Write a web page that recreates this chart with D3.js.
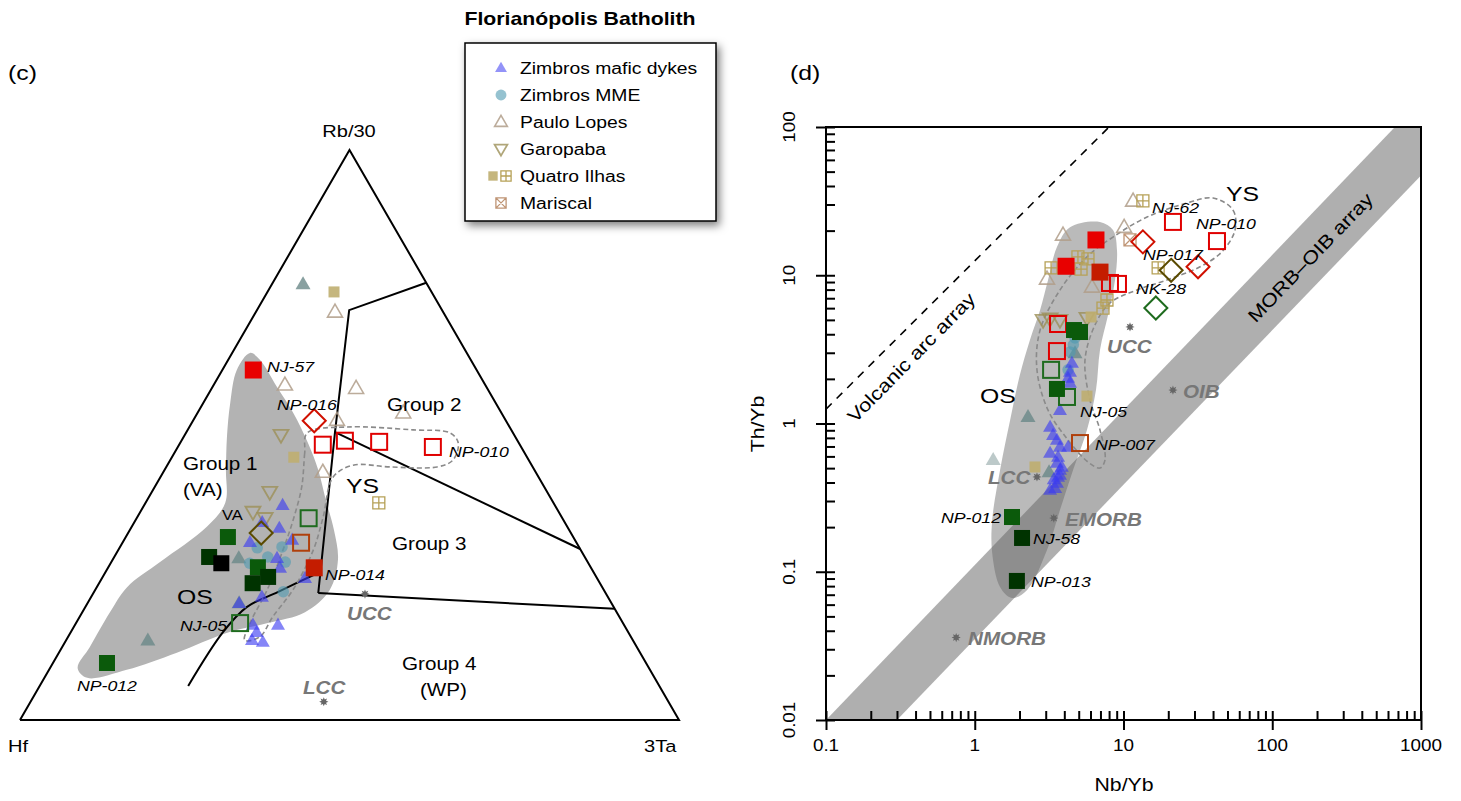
<!DOCTYPE html>
<html>
<head>
<meta charset="utf-8">
<script src="https://cdn.jsdelivr.net/npm/d3@7"></script>
<style>
  body { margin: 0; background: #fff; }
  svg { font-family: "Liberation Sans", Arial, Helvetica, sans-serif; }
</style>
</head>
<body>
<svg id="chart" width="1461" height="801"></svg>
<script>
// ---------------- Hf – Rb/30 – 3Ta (proportions: Hf, Rb/30, 3Ta) ----------------
const ternDykes = [
  [0.413,0.377,0.210],[0.459,0.347,0.194],[0.438,0.337,0.225],[0.495,0.312,0.193],
  [0.429,0.316,0.255],[0.468,0.284,0.248],[0.472,0.267,0.261],[0.525,0.216,0.259],
  [0.443,0.249,0.308],[0.565,0.205,0.230],[0.563,0.167,0.270],[0.525,0.167,0.308],
  [0.578,0.140,0.282],[0.563,0.137,0.300],[0.564,0.154,0.282]
];
const ternMME = [
  [0.489,0.302,0.209],[0.451,0.304,0.246],[0.481,0.286,0.233],
  [0.459,0.277,0.264],[0.514,0.275,0.211],[0.488,0.225,0.287]
];
const ternPauloLopes = [
  [0.164,0.716,0.120],[0.304,0.588,0.108],[0.199,0.582,0.219],
  [0.149,0.539,0.312],[0.256,0.526,0.218],[0.323,0.435,0.242]
];
const ternGaropaba = [[0.354,0.500,0.146],[0.421,0.400,0.179],[0.464,0.365,0.171],[0.451,0.354,0.195]];
const ternQuatroIlhas = [[0.148,0.751,0.101],[0.354,0.461,0.185]];
const ternQuatroIlhasGrid = [[0.265,0.381,0.354]];
const ternOther = [[0.188,0.765,0.047],[0.526,0.284,0.190],[0.736,0.140,0.124],[0.565,0.205,0.230]];
const ternRedFilled = [[0.339,0.614,0.047]];
const ternDarkRedFilled = [[0.420,0.267,0.313]];
const ternRedOpenSq = [[0.299,0.483,0.218],[0.262,0.490,0.248],[0.211,0.488,0.301],[0.134,0.479,0.387]];
const ternRedDiamond = [[0.291,0.525,0.184]];
const ternOliveDiamond = [[0.470,0.328,0.202]];
const ternBrownOpenSq = [[0.418,0.311,0.271]];
const ternGreenOpenSq = [[0.385,0.354,0.261],[0.581,0.170,0.249]];
const ternGreenFilled = [[0.524,0.321,0.155],[0.505,0.268,0.227],[0.818,0.100,0.082]];
const ternDarkGreenFilled = [[0.570,0.286,0.144],[0.498,0.251,0.251],[0.527,0.240,0.233]];
const ternBlackFilled = [[0.557,0.275,0.168]];
const ternRefs = [[0.366,0.221,0.413],[0.523,0.032,0.445]];   // UCC, LCC

// discrimination field boundaries
const ternFields = [
  [[0,0.767,0.233],[0.141,0.719,0.140],[0.2695,0.505,0.2255],[0.436,0.2228,0.3412]],
  [[0.2695,0.505,0.2255],[0,0.300,0.700]],
  [[0.436,0.2228,0.3412],[0,0.195,0.805]]
];
const ternFieldCurve = [[0.715,0.0596,0.2254],[0.615,0.154,0.231],[0.557,0.198,0.245],[0.497,0.2246,0.279],[0.415,0.2596,0.3254]];

// OS (shaded) and YS (dashed) sample envelopes
const ternOS = [
  [0.329,0.644,0.027],[0.320,0.632,0.048],[0.318,0.584,0.098],[0.316,0.539,0.145],[0.320,0.486,0.194],
  [0.328,0.439,0.233],[0.343,0.386,0.271],[0.357,0.333,0.310],[0.377,0.281,0.342],[0.416,0.228,0.356],
  [0.473,0.189,0.338],[0.539,0.170,0.291],[0.609,0.153,0.238],[0.703,0.118,0.179],[0.794,0.088,0.118],
  [0.861,0.074,0.065],[0.867,0.091,0.042],[0.830,0.128,0.042],[0.769,0.189,0.042],[0.721,0.233,0.046],
  [0.649,0.277,0.074],[0.547,0.339,0.114],[0.498,0.381,0.121],[0.468,0.439,0.093],[0.438,0.496,0.066],
  [0.403,0.556,0.041],[0.364,0.614,0.022]
];
const ternYS = [
  [0.3125,0.5035,0.184],[0.334,0.468,0.198],[0.368,0.409,0.223],[0.410,0.351,0.239],[0.452,0.298,0.250],
  [0.511,0.228,0.261],[0.566,0.170,0.264],[0.589,0.140,0.271],[0.563,0.146,0.291],[0.526,0.181,0.293],
  [0.472,0.228,0.300],[0.406,0.298,0.296],[0.362,0.356,0.282],[0.312,0.426,0.262],[0.271,0.447,0.282],
  [0.217,0.444,0.339],[0.145,0.444,0.411],[0.115,0.456,0.429],[0.092,0.486,0.422],[0.0955,0.5035,0.401],
  [0.149,0.509,0.342],[0.247,0.514,0.239]
];

// ---------------- Nb/Yb vs Th/Yb ----------------
const logDykes = [
  [4.50,2.56],[4.37,2.23],[4.24,2.03],[4.37,1.88],[3.74,1.23],[3.21,0.947],[3.36,0.836],
  [3.57,0.774],[4.24,0.695],[3.74,0.695],[3.21,0.633],[3.63,0.595],[3.57,0.542],[3.85,0.509],
  [3.74,0.486],[3.63,0.436],[3.57,0.397],[3.47,0.367],[3.21,0.356],[3.74,0.45],[3.40,0.42]
];
const logMME = [[4.72,3.77],[4.37,3.04],[4.24,2.30],[4.60,3.40]];
const logPauloLopes = [[11.6,31.7],[10.1,21.1],[3.92,18.7],[3.06,9.44],[6.14,8.34]];
const logGaropaba = [[2.88,4.99],[3.74,4.99],[5.68,5.15],[3.21,5.10]];
const logQuatroIlhas = [[6.05,5.23],[5.68,1.53],[2.54,0.509]];
const logQuatroIlhasGrid = [[13.5,31.7],[4.94,13.3],[5.77,12.9],[3.26,11.2],[5.18,11.0],[17.1,11.2],[7.74,6.81],[7.28,6.01]];
const logMariscal = [[11.06,17.3]];
const logOther = [[4.72,2.99],[2.28,1.11],[3.16,0.471]];
const logOtherLight = [[1.33,0.568]];
const logRedFilled = [[4.11,11.5],[6.53,17.3]];
const logDarkRedFilled = [[6.95,10.5]];
const logRedOpenSq = [[21.5,22.9],[42.5,17.0],[8.11,8.87],[9.18,8.74],[3.63,4.69],[3.57,3.08]];
const logRedDiamond = [[13.5,16.8],[31.7,11.4]];
const logOliveDiamond = [[20.9,10.8]];
const logGreenDiamond = [[16.5,6.01]];
const logGreenFilled = [[4.65,4.27],[5.10,4.14],[3.57,1.71],[1.78,0.234]];
const logDarkGreenFilled = [[2.08,0.169],[1.92,0.0867]];
const logGreenOpenSq = [[3.26,2.30],[4.17,1.51]];
const logBrownOpenSq = [[5.10,0.738]];
const logRefs = [[11.06,4.48],[21.5,1.68],[2.62,0.436],[3.40,0.23],[0.75,0.036]]; // UCC, OIB, LCC, EMORB, NMORB

const logMorbOib = [[0.1,0.01],[0.3,0.01],[1000,47],[1000,100],[668,100]];
const logArcLine = [[0.1,1.25],[8,100]];
const logOS = [
  [6.95,22.9],[8.50,20.2],[9.04,14.8],[8.77,9.29],[7.87,5.39],[6.95,3.13],[6.53,1.68],[5.68,0.904],
  [4.58,0.486],[3.74,0.261],[3.06,0.140],[2.25,0.0753],[1.78,0.0665],[1.48,0.0789],[1.31,0.134],
  [1.31,0.223],[1.48,0.486],[1.73,1.057],[2.01,2.12],[2.35,3.66],[2.75,5.83],[3.11,9.29],[3.57,15.5],[4.37,21.1]
];
const logYS = [
  [40.0,33.2],[54.5,27.5],[56.2,20.2],[45.9,14.4],[32.7,11.4],[19.6,9.29],[12.3,7.95],[8.11,6.50],
  [6.43,4.62],[5.51,2.68],[5.95,1.44],[6.95,0.904],[7.51,0.568],[6.95,0.501],[5.77,0.550],[4.24,0.774],
  [3.11,1.23],[2.62,2.30],[2.75,4.27],[3.74,7.95],[5.68,13.3],[8.50,18.1],[14.4,24.7],[26.7,30.7]
];

const xTickValues = [0.1, 1, 10, 100, 1000];
const xTickLabels = ["0.1", "1", "10", "100", "1000"];
const yTickValues = [0.01, 0.1, 1, 10, 100];
const yTickLabels = ["0.01", "0.1", "1", "10", "100"];

const legendNames = ["Zimbros mafic dykes", "Zimbros MME", "Paulo Lopes", "Garopaba", "Quatro Ilhas", "Mariscal"];

// ---------------- styles ----------------
const ST = {
  dykes:      { kind: "triUp",   size: 14, fill: "#3a3af2", fo: 0.62 },
  mme:        { kind: "circle",  size: 11.5, fill: "#4f9ab0", fo: 0.6 },
  pauloLopes: { kind: "triUp",   size: 15, stroke: "#b09e8a", sw: 1.6, so: 0.85 },
  garopaba:   { kind: "triDown", size: 15, stroke: "#9c9058", sw: 1.8, so: 0.8 },
  qi:         { kind: "square",  size: 11, fill: "#bfae70", fo: 0.9 },
  qiGrid:     { kind: "grid",    size: 12, stroke: "#b6a157", sw: 1.3 },
  mariscal:   { kind: "xbox",    size: 12, stroke: "#bf9474", sw: 1.3 },
  other:      { kind: "triUp",   size: 15, fill: "#6a8888", fo: 0.8 },
  otherLight: { kind: "triUp",   size: 15, fill: "#6a8888", fo: 0.45 },
  redFilled:  { kind: "square",  size: 17, fill: "#e80000" },
  darkRed:    { kind: "square",  size: 17, fill: "#c41c00" },
  redOpen:    { kind: "square",  size: 16, stroke: "#e00000", sw: 2 },
  redDiamond: { kind: "diamond", size: 23, stroke: "#d01000", sw: 2 },
  oliveDia:   { kind: "diamond", size: 23, stroke: "#5a4a00", sw: 2 },
  greenDia:   { kind: "diamond", size: 23, stroke: "#1e6b1e", sw: 2 },
  brownOpen:  { kind: "square",  size: 16, stroke: "#b0400c", sw: 2 },
  greenOpen:  { kind: "square",  size: 16, stroke: "#1e6b1e", sw: 2 },
  green:      { kind: "square",  size: 16, fill: "#0b5a0b" },
  darkGreen:  { kind: "square",  size: 16, fill: "#003300" },
  black:      { kind: "square",  size: 16, fill: "#000" }
};

const SX = 1.18; // horizontal glyph stretch of all lettering
const svg = d3.select("#chart");

const defs = svg.append("defs");
defs.append("filter").attr("id", "shadow").attr("x", "-20%").attr("y", "-20%").attr("width", "150%").attr("height", "150%")
  .append("feDropShadow").attr("dx", 3).attr("dy", 4).attr("stdDeviation", 4.5)
  .attr("flood-color", "#000").attr("flood-opacity", 0.5);
defs.append("clipPath").attr("id", "plotClip").append("rect")
  .attr("x", 826).attr("y", 127).attr("width", 595).attr("height", 593);

function label(g, x, y, s, o = {}) {
  return g.append("text")
    .attr("transform", `translate(${x},${y})` + (o.rotate ? ` rotate(${o.rotate})` : "") + ` scale(${SX},1)`)
    .attr("text-anchor", o.anchor || "start")
    .attr("font-size", o.size || 15)
    .attr("font-style", o.italic ? "italic" : null)
    .attr("font-weight", o.bold ? "bold" : null)
    .attr("fill", o.fill || "#000")
    .text(s);
}

function drawSymbol(g, st, x, y) {
  const s = st.size;
  let el;
  if (st.kind === "triUp" || st.kind === "triDown") {
    const h = s * 0.866, k = st.kind === "triUp" ? 1 : -1;
    el = g.append("path").attr("d",
      `M${x},${y - k * h * 0.6}L${x + s / 2},${y + k * h * 0.4}L${x - s / 2},${y + k * h * 0.4}Z`);
  } else if (st.kind === "circle") {
    el = g.append("circle").attr("cx", x).attr("cy", y).attr("r", s / 2);
  } else if (st.kind === "square") {
    el = g.append("rect").attr("x", x - s / 2).attr("y", y - s / 2).attr("width", s).attr("height", s);
  } else if (st.kind === "diamond") {
    el = g.append("path").attr("d", `M${x},${y - s / 2}L${x + s / 2},${y}L${x},${y + s / 2}L${x - s / 2},${y}Z`);
  } else if (st.kind === "grid" || st.kind === "xbox") {
    const h = s / 2;
    const inner = st.kind === "grid"
      ? `M${x},${y - h}V${y + h}M${x - h},${y}H${x + h}`
      : `M${x - h},${y - h}L${x + h},${y + h}M${x + h},${y - h}L${x - h},${y + h}`;
    el = g.append("path").attr("d", `M${x - h},${y - h}H${x + h}V${y + h}H${x - h}Z` + inner);
  }
  el.attr("fill", st.fill || "none")
    .attr("fill-opacity", st.fo != null ? st.fo : 1)
    .attr("stroke", st.stroke || "none")
    .attr("stroke-width", st.sw || 0)
    .attr("stroke-opacity", st.so != null ? st.so : 1);
  return el;
}

function starPath(cx, cy) {
  let p = "";
  for (let i = 0; i < 16; i++) {
    const a = Math.PI * i / 8, r = i % 2 ? 2.4 : 4.6;
    p += (i ? "L" : "M") + (cx + r * Math.sin(a)).toFixed(2) + "," + (cy - r * Math.cos(a)).toFixed(2);
  }
  return p + "Z";
}

// =============== (c) ternary ===============
const tx = d3.scaleLinear().domain([0, 1]).range([20, 679]);
const ty = d3.scaleLinear().domain([0, 1]).range([720, 150]);
const tern = ([h, r, t]) => { const s = h + r + t; return [tx(t / s + r / s / 2), ty(r / s)]; };

const L = svg.append("g");
L.append("path")
  .attr("d", d3.line().curve(d3.curveCatmullRomClosed.alpha(0.5))(ternOS.map(tern)))
  .attr("fill", "#b3b3b3");

L.append("path")
  .attr("d", d3.line()([[1,0,0],[0,1,0],[0,0,1],[1,0,0]].map(tern)) )
  .attr("fill", "none").attr("stroke", "#000").attr("stroke-width", 2).attr("stroke-linejoin", "miter");
ternFields.forEach(f => L.append("path").attr("d", d3.line()(f.map(tern)))
  .attr("fill", "none").attr("stroke", "#000").attr("stroke-width", 2));
L.append("path").attr("d", d3.line().curve(d3.curveCatmullRom)(ternFieldCurve.map(tern)))
  .attr("fill", "none").attr("stroke", "#000").attr("stroke-width", 2);

L.append("path")
  .attr("d", d3.line().curve(d3.curveCatmullRomClosed.alpha(0.5))(ternYS.map(tern)))
  .attr("fill", "none").attr("stroke", "#8a8a8a").attr("stroke-width", 1.6).attr("stroke-dasharray", "5,3");

ternRefs.forEach(v => { const [x, y] = tern(v); L.append("path").attr("d", starPath(x, y)).attr("fill", "#666"); });

const ternLayers = [
  [ternOther, ST.other], [ternPauloLopes, ST.pauloLopes], [ternGaropaba, ST.garopaba],
  [ternQuatroIlhas, ST.qi], [ternQuatroIlhasGrid, ST.qiGrid], [ternMME, ST.mme], [ternDykes, ST.dykes],
  [ternRedOpenSq, ST.redOpen], [ternRedDiamond, ST.redDiamond], [ternOliveDiamond, ST.oliveDia],
  [ternBrownOpenSq, ST.brownOpen], [ternGreenOpenSq, ST.greenOpen], [ternGreenFilled, ST.green],
  [ternDarkGreenFilled, ST.darkGreen], [ternBlackFilled, ST.black],
  [ternRedFilled, ST.redFilled], [ternDarkRedFilled, ST.darkRed]
];
ternLayers.forEach(([arr, st]) => arr.forEach(v => { const [x, y] = tern(v); drawSymbol(L, st, x, y); }));

const gray = "#777";
[
  ["(c)", 8, 80, { size: 21 }],
  ["Rb/30", 349, 137, { size: 17, anchor: "middle" }],
  ["Hf", 8, 752, { size: 17 }],
  ["3Ta", 644, 752, { size: 17 }],
  ["NJ-57", 267, 372, { italic: true }],
  ["NP-016", 277, 410, { italic: true }],
  ["Group 2", 387, 411, { size: 17.5 }],
  ["NP-010", 449, 457, { italic: true }],
  ["Group 1", 183, 470, { size: 17.5 }],
  ["(VA)", 183, 496, { size: 17.5 }],
  ["YS", 346, 493, { size: 21 }],
  ["VA", 222, 520, { size: 14 }],
  ["Group 3", 392, 550, { size: 17.5 }],
  ["NP-014", 325, 580, { italic: true }],
  ["OS", 177, 604, { size: 21 }],
  ["UCC", 347, 620, { size: 17.5, bold: true, italic: true, fill: gray }],
  ["NJ-05", 180, 631, { italic: true }],
  ["Group 4", 402, 670, { size: 17.5 }],
  ["(WP)", 420, 696, { size: 17.5 }],
  ["NP-012", 77, 691, { italic: true }],
  ["LCC", 303, 694, { size: 17.5, bold: true, italic: true, fill: gray }]
].forEach(([s, x, y, o]) => label(L, x, y, s, o));

// =============== legend ===============
const G = svg.append("g");
label(G, 580, 25, "Florianópolis Batholith", { size: 18, bold: true, anchor: "middle" });
G.append("rect").attr("x", 465).attr("y", 43).attr("width", 251).attr("height", 178)
  .attr("fill", "#fff").attr("stroke", "#000").attr("stroke-width", 1.5).attr("filter", "url(#shadow)");
const legendSyms = [
  [[ST.dykes, 501]], [[ST.mme, 501]], [[ST.pauloLopes, 501]], [[ST.garopaba, 501]],
  [[ST.qi, 493], [ST.qiGrid, 506]], [[ST.mariscal, 501]]
];
legendNames.forEach((name, i) => {
  const cy = 68 + i * 27;
  legendSyms[i].forEach(([st, cx]) => {
    const small = Object.assign({}, st, { size: st.size * (st.kind === "circle" ? 0.95 : 0.85) });
    if (st === ST.dykes) small.fo = 0.55;
    drawSymbol(G, small, cx, cy);
  });
  label(G, 520, cy + 6, name, { size: 16.4 });
});

// =============== (d) Nb/Yb vs Th/Yb ===============
const x = d3.scaleLog().domain([0.1, 1000]).range([826, 1421]);
const y = d3.scaleLog().domain([0.01, 100]).range([720, 127]);
const P = (d) => [x(d[0]), y(d[1])];

const R = svg.append("g");
const inner = R.append("g").attr("clip-path", "url(#plotClip)");
inner.append("path").attr("d", d3.line()(logMorbOib.map(P)) + "Z")
  .attr("fill", "#666").attr("fill-opacity", 0.52);
inner.append("path").attr("d", d3.line().curve(d3.curveCatmullRomClosed.alpha(0.5))(logOS.map(P)))
  .attr("fill", "#666").attr("fill-opacity", 0.45);
inner.append("path").attr("d", d3.line()(logArcLine.map(P)))
  .attr("fill", "none").attr("stroke", "#000").attr("stroke-width", 1.6).attr("stroke-dasharray", "8,7");
inner.append("path").attr("d", d3.line().curve(d3.curveCatmullRomClosed.alpha(0.5))(logYS.map(P)))
  .attr("fill", "none").attr("stroke", "#8a8a8a").attr("stroke-width", 1.6).attr("stroke-dasharray", "5,3");

logRefs.forEach(v => { const [px, py] = P(v); inner.append("path").attr("d", starPath(px, py)).attr("fill", "#666"); });

const logLayers = [
  [logOtherLight, ST.otherLight], [logOther, ST.other], [logPauloLopes, ST.pauloLopes], [logGaropaba, ST.garopaba],
  [logQuatroIlhas, ST.qi], [logQuatroIlhasGrid, ST.qiGrid], [logMariscal, ST.mariscal],
  [logMME, ST.mme], [logDykes, ST.dykes],
  [logRedOpenSq, ST.redOpen], [logRedDiamond, ST.redDiamond], [logOliveDiamond, ST.oliveDia],
  [logGreenDiamond, ST.greenDia], [logBrownOpenSq, ST.brownOpen], [logGreenOpenSq, ST.greenOpen],
  [logGreenFilled, ST.green], [logDarkGreenFilled, ST.darkGreen],
  [logRedFilled, ST.redFilled], [logDarkRedFilled, ST.darkRed]
];
logLayers.forEach(([arr, st]) => arr.forEach(v => { const [px, py] = P(v); drawSymbol(inner, st, px, py); }));

// axes: major ticks cross the axis, minor ticks point inward
const decadesX = d3.range(-1, 3), decadesY = d3.range(-2, 2);
const xMinor = decadesX.flatMap(d => d3.range(2, 10).map(k => k * Math.pow(10, d)));
const yMinor = decadesY.flatMap(d => d3.range(2, 10).map(k => k * Math.pow(10, d)));

function styleAxis(sel) {
  sel.select(".domain").remove();
  sel.selectAll(".tick line").attr("stroke", "#000").attr("stroke-width", 2);
  sel.selectAll(".tick text").remove();
}
R.append("g").attr("transform", "translate(0,720)")
  .call(d3.axisBottom(x).tickValues(xTickValues).tickSize(10)).call(styleAxis);
R.append("g").attr("transform", "translate(0,720)")
  .call(d3.axisBottom(x).tickValues(xTickValues.concat(xMinor)).tickSize(-9)).call(styleAxis);
R.append("g").attr("transform", "translate(826,0)")
  .call(d3.axisLeft(y).tickValues(yTickValues).tickSize(10)).call(styleAxis);
R.append("g").attr("transform", "translate(826,0)")
  .call(d3.axisLeft(y).tickValues(yTickValues.concat(yMinor)).tickSize(-9)).call(styleAxis);
R.append("path")
  .attr("d", `M${x(0.1)},${y(100)}H${x(1000)}V${y(0.01)}H${x(0.1)}Z`)
  .attr("fill", "none").attr("stroke", "#000").attr("stroke-width", 2);

xTickValues.forEach((v, i) => label(R, x(v), 751, xTickLabels[i], { size: 16, anchor: "middle" }));
yTickValues.forEach((v, i) => label(R, 795, y(v), yTickLabels[i], { size: 16, anchor: "middle", rotate: -90 }));
label(R, 1124, 791, "Nb/Yb", { size: 18, anchor: "middle" });
label(R, 764, 424, "Th/Yb", { size: 18, anchor: "middle", rotate: -90 });

[
  ["(d)", 790, 80, { size: 21 }],
  ["NJ-62", 1152, 213, { italic: true }],
  ["NP-010", 1196, 229, { italic: true }],
  ["YS", 1226, 201, { size: 21 }],
  ["NP-017", 1143, 260, { italic: true }],
  ["NK-28", 1136, 294, { italic: true }],
  ["UCC", 1107, 353, { size: 17.5, bold: true, italic: true, fill: gray }],
  ["OS", 980, 403, { size: 21 }],
  ["OIB", 1183, 398, { size: 17.5, bold: true, italic: true, fill: gray }],
  ["NJ-05", 1080, 417, { italic: true }],
  ["NP-007", 1095, 450, { italic: true }],
  ["LCC", 988, 484, { size: 17.5, bold: true, italic: true, fill: gray }],
  ["NP-012", 1001, 523, { italic: true, anchor: "end" }],
  ["EMORB", 1065, 526, { size: 17.5, bold: true, italic: true, fill: gray }],
  ["NJ-58", 1033, 544, { italic: true }],
  ["NP-013", 1031, 587, { italic: true }],
  ["NMORB", 968, 645, { size: 17.5, bold: true, italic: true, fill: gray }],
  ["Volcanic arc array", 916, 362, { size: 18.5, anchor: "middle", rotate: -45.5 }],
  ["MORB\u2013OIB array", 1315, 262, { size: 18.5, anchor: "middle", rotate: -46 }]
].forEach(([s, px, py, o]) => label(R, px, py, s, o));
</script>
</body>
</html>
